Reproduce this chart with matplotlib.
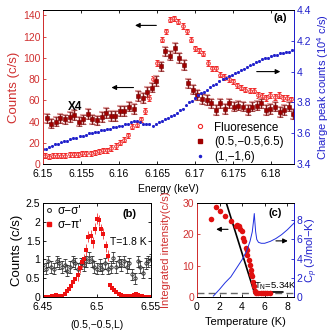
import numpy as np
import matplotlib
matplotlib.use('Agg')
import matplotlib.pyplot as plt
from matplotlib.ticker import FormatStrFormatter
from matplotlib.lines import Line2D

plt.rcParams['font.family'] = ['Liberation Sans', 'DejaVu Sans']
plt.rcParams['mathtext.fontset'] = 'custom'
plt.rcParams['mathtext.rm'] = 'Liberation Sans'
plt.rcParams['mathtext.it'] = 'Liberation Sans:italic'
plt.rcParams['mathtext.bf'] = 'Liberation Sans:bold'

# ---------------- panel (a) data ----------------
E_fl = np.round(6.1502 + 0.00055 * np.arange(60), 5)
fluor = [8, 7, 8, 8, 8, 8, 9, 9, 9, 10,
         10, 10, 11, 12, 13, 13, 15, 17, 20, 23,
         27, 35, 37, 42, 50, 62, 80, 95, 117, 125,
         136, 137, 134, 130, 125, 117, 109, 107, 104, 95,
         90, 90, 84, 82, 80, 78, 74, 72, 70, 69,
         69, 65, 64, 62, 65, 63, 65, 62, 62, 61]
fluor_err = 2.5

E_sq = np.round(6.1505 + 0.0006 * np.arange(55), 5)
sq_x4 = [43, 38, 40, 43, 42, 44, 46, 40, 42, 47,
         42, 41, 44, 48, 45, 45, 50, 50, 54, 52,
         64, 62, 68, 72, 78, 92, 106, 102, 109, 100,
         93, 76, 70, 65, 61, 60, 57, 51, 57, 52,
         57, 54, 55, 54, 51, 54, 55, 57, 51, 52,
         54, 49, 51, 54, 47]
sq_err = 4.5

E_bl = np.round(6.1500 + 0.0004 * np.arange(83), 5)
charge = [3.50, 3.50, 3.51, 3.52, 3.53, 3.53, 3.54, 3.55, 3.55, 3.56,
          3.57, 3.57, 3.58, 3.58, 3.59, 3.60, 3.60, 3.61, 3.61, 3.62,
          3.62, 3.63, 3.63, 3.64, 3.64, 3.65, 3.65, 3.66, 3.66, 3.67,
          3.68, 3.68, 3.67, 3.66, 3.66, 3.66, 3.65, 3.66, 3.67, 3.68,
          3.69, 3.70, 3.71, 3.72, 3.73, 3.75, 3.76, 3.78, 3.80, 3.81,
          3.83, 3.85, 3.86, 3.87, 3.88, 3.90, 3.91, 3.92, 3.94, 3.95,
          3.96, 3.97, 3.98, 3.99, 4.00, 4.01, 4.02, 4.03, 4.04, 4.05,
          4.06, 4.07, 4.08, 4.09, 4.09, 4.10, 4.11, 4.11, 4.12, 4.12,
          4.13, 4.13, 4.14]
charge_err = 0.006

legend_a = ['Fluoresence', '(0.5,\u22120.5,6.5)', '(1,\u22121,6)']

# ---------------- panel (b) data ----------------
L_ss = np.round(6.45 + 0.0025 * np.arange(41), 4)
ss = [0.85, 0.75, 0.95, 0.80, 0.75, 0.95, 0.90, 0.80, 0.85, 0.70,
      0.80, 0.95, 0.90, 0.75, 0.90, 0.85, 0.95, 1.05, 0.95, 0.80,
      0.75, 0.85, 0.75, 0.90, 0.75, 0.80, 1.05, 0.80, 0.95, 0.85,
      0.95, 0.80, 0.90, 0.60, 0.50, 0.95, 0.80, 0.65, 0.90, 0.95, 1.00]
ss_err = 0.15

L_sp = np.round(6.45 + 0.002 * np.arange(51), 4)
sp = [0.00, 0.00, 0.01, 0.00, 0.02, 0.01, 0.05, 0.02, 0.00, 0.03,
      0.08, 0.15, 0.22, 0.30, 0.40, 0.48, 0.58, 0.78, 0.92, 1.00,
      1.25, 1.60, 1.62, 1.45, 1.82, 2.08, 2.04, 1.80, 1.68, 1.35,
      1.10, 0.32, 0.24, 0.18, 0.12, 0.08, 0.05, 0.03, 0.02, 0.01,
      0.02, 0.03, 0.05, 0.08, 0.06, 0.03, 0.02, 0.00, 0.01, 0.00, 0.00]
sp_err = 0.15

legend_b = ['\u03c3\u2212\u03c3\'', '\u03c3\u2212\u03c0\'']

# ---------------- panel (c) data ----------------
T_int = [1.2, 1.65, 2.07, 2.5, 3.0, 3.45, 3.55, 3.7, 3.8, 3.98,
         4.08, 4.2, 4.32, 4.4, 4.47, 4.58, 4.66, 4.75, 4.82, 4.88,
         4.97, 5.04, 5.12, 5.25, 5.45, 5.65, 5.85, 6.05, 6.25, 6.45]
I_int = [24.8, 28.6, 27.4, 25.8, 24.3, 22.8, 23.0, 22.6, 21.6, 21.0,
         18.8, 17.8, 15.6, 15.0, 13.5, 11.8, 10.2, 8.6, 7.2, 6.8,
         4.8, 3.5, 1.8, 1.3, 1.2, 1.2, 1.2, 1.2, 1.2, 1.2]
fit_T = [2.6, 5.07, 7.6]
fit_I = [30.0, 1.6, 1.6]
background = 1.3
T_cp = [1.45, 2.0, 2.5, 3.0, 3.5, 4.0, 4.4, 4.7, 4.9, 5.0,
        5.08, 5.12, 5.2, 5.3, 5.45, 5.7, 6.0, 6.5, 7.0, 7.5, 8.0, 8.6]
Cp = [0.1, 0.8, 1.5, 2.1, 3.0, 3.9, 4.8, 5.8, 6.8, 7.8,
      8.7, 8.0, 6.8, 6.0, 5.7, 5.6, 5.6, 5.8, 6.1, 6.5, 7.0, 7.7]

# ---------------- styling ----------------
RED = '#f02828'
DRED = '#a00000'
LRED = '#d03030'
BLUE = '#2020cc'
FS = 7.5
LFS = 8

fig = plt.figure(figsize=(3.36, 3.31), dpi=100)
W, H = 336.0, 331.0

def box(l, t, r, b):
    return [l / W, 1 - b / H, (r - l) / W, (b - t) / H]

def style(ax):
    ax.tick_params(direction='in', length=2.5, width=0.6, labelsize=FS, pad=2)
    ax.tick_params(axis='x', pad=3.5)
    for s in ax.spines.values():
        s.set_linewidth(0.7)

axA = fig.add_axes(box(43, 10, 294, 164))
axA2 = axA.twinx()

axA.errorbar(E_fl, fluor, yerr=fluor_err, fmt='o', mfc='none', mec=RED,
             ecolor=RED, ms=2.6, mew=0.7, elinewidth=0.6, capsize=1.6, capthick=0.6)
axA.errorbar(E_sq, sq_x4, yerr=sq_err, fmt='none', ecolor='#e0a0a0',
             elinewidth=1.8, capsize=2.2, capthick=1.5)
axA.errorbar(E_sq, sq_x4, yerr=sq_err, fmt='s', color=DRED, mec='#700000',
             ms=2.8, mew=0.4, ecolor='#700000', elinewidth=0.6, capsize=1.8, capthick=0.6)
axA2.errorbar(E_bl, charge, yerr=charge_err, fmt='.', color=BLUE, ms=2.2,
              elinewidth=0.5, capsize=1.0, capthick=0.5)

axA.set_xlim(6.15, 6.183)
axA.set_ylim(0, 145)
axA2.set_ylim(3.4, 4.4)
axA.set_xticks([6.15, 6.155, 6.16, 6.165, 6.17, 6.175, 6.18])
axA.xaxis.set_major_formatter(FormatStrFormatter('%g'))
axA.set_yticks(range(0, 141, 20))
axA2.set_yticks([3.4, 3.6, 3.8, 4.0, 4.2, 4.4])
axA2.yaxis.set_major_formatter(FormatStrFormatter('%g'))
for ax in (axA, axA2):
    style(ax)
axA.tick_params(axis='x', top=True)
axA.tick_params(axis='y', colors=LRED)
axA2.tick_params(axis='y', colors=BLUE)
axA.spines['left'].set_color(LRED)
axA2.spines['left'].set_color(LRED)
axA2.spines['right'].set_color(BLUE)
axA.spines['right'].set_color(BLUE)
axA.set_xlabel('Energy (keV)', fontsize=FS, labelpad=4)
axA.set_ylabel('Counts (c/s)', fontsize=9.5, color=LRED, labelpad=2)
axA2.set_ylabel('Charge peak counts (10$^4$ c/s)', fontsize=LFS, color=BLUE, labelpad=3)

arr = dict(arrowstyle='-|>', color='k', lw=0.8, mutation_scale=7, shrinkA=0, shrinkB=0)
axA.annotate('', xy=(6.1621, 130.5), xytext=(6.1649, 130.5), arrowprops=arr)
axA.annotate('', xy=(6.1590, 72), xytext=(6.1619, 72), arrowprops=arr)
axA2.annotate('', xy=(6.1812, 4.0), xytext=(6.1781, 4.0), arrowprops=arr)
axA.text(6.1542, 54, 'X4', fontsize=8.5, fontweight='bold', ha='center', va='center')
axA.text(6.1812, 137, '(a)', fontsize=8, fontweight='bold', ha='center', va='center')

hA = [Line2D([], [], ls='none', marker='o', mfc='none', mec=RED, ms=3, mew=0.8),
      Line2D([], [], ls='none', marker='s', color=DRED, ms=3.2),
      Line2D([], [], ls='none', marker='.', color=BLUE, ms=3)]
axA2.legend(hA, legend_a, loc='lower left', bbox_to_anchor=(0.575, -0.04),
            frameon=False, fontsize=8.4, handlelength=1.0, handletextpad=0.7,
            labelspacing=0.24, borderaxespad=0.2)

# ---------------- panel (b) ----------------
axB = fig.add_axes(box(43, 203, 151, 297))
axB.errorbar(L_ss, ss, yerr=ss_err, fmt='o', mfc='none', mec='#222222',
             ecolor='#222222', ms=2.4, mew=0.6, elinewidth=0.5, capsize=1.2, capthick=0.5)
sp_errs = [sp_err if v >= 0.5 else 0 for v in sp]
axB.errorbar(L_sp, sp, yerr=sp_errs, fmt='s', color='#ee1010', ms=2.6, mew=0,
             ecolor='#ee1010', elinewidth=0.5, capsize=1.2, capthick=0.5)
axB.set_xlim(6.45, 6.55)
axB.set_ylim(0, 2.5)
axB.set_xticks([6.45, 6.5, 6.55])
axB.set_yticks([0, 0.5, 1, 1.5, 2, 2.5])
axB.xaxis.set_major_formatter(FormatStrFormatter('%g'))
axB.yaxis.set_major_formatter(FormatStrFormatter('%g'))
style(axB)
axB.tick_params(top=True, right=True)
axB.set_xlabel('(0.5,\u22120.5,L)', fontsize=FS, labelpad=6)
axB.set_ylabel('Counts (c/s)', fontsize=9.5, labelpad=2)
axB.text(6.5305, 2.22, '(b)', fontsize=8, fontweight='bold', ha='center', va='center')
axB.text(6.512, 1.45, 'T=1.8 K', fontsize=7.5, ha='left', va='center')
hB = [Line2D([], [], ls='none', marker='o', mfc='none', mec='#222222', ms=2.8, mew=0.7),
      Line2D([], [], ls='none', marker='s', color='#ee1010', ms=3)]
axB.legend(hB, legend_b, loc='upper left', frameon=False, fontsize=8.5,
           handlelength=0.6, handletextpad=0.4, labelspacing=0.15,
           borderaxespad=0.1, borderpad=0.1)

# ---------------- panel (c) ----------------
axC = fig.add_axes(box(197, 203, 294, 297))
axC2 = axC.twinx()
axC.axhline(background, color='#666666', lw=1.0, dashes=(5, 3))
axC.plot(fit_T, fit_I, color='k', lw=1.2)
axC.plot(T_int, I_int, 'o', color='#e01010', ms=4, mew=0)
axC2.plot(T_cp, Cp, color='#2030e0', lw=0.7)
axC.set_xlim(0, 8.6)
axC.set_ylim(0, 30)
axC2.set_ylim(0, 9.8)
axC.set_xticks([0, 2, 4, 6, 8])
axC.set_yticks([0, 10, 20, 30])
axC2.set_yticks([0, 2, 4, 6, 8])
for ax in (axC, axC2):
    style(ax)
axC.tick_params(axis='x', top=True)
axC.tick_params(axis='y', colors=LRED)
axC2.tick_params(axis='y', colors=BLUE)
axC.spines['left'].set_color(LRED)
axC2.spines['left'].set_color(LRED)
axC2.spines['right'].set_color(BLUE)
axC.spines['right'].set_color(BLUE)
axC.set_xlabel('Temperature (K)', fontsize=LFS, labelpad=4)
axC.set_ylabel('Integrated intensity(c/s)', fontsize=LFS, color=LRED, labelpad=8)
axC2.set_ylabel('C$_p$ (J/mol\u2212K)', fontsize=LFS, color=BLUE, labelpad=1)
axC.annotate('', xy=(1.7, 21.6), xytext=(2.75, 21.6), arrowprops=arr)
axC2.annotate('', xy=(8.05, 5.85), xytext=(7.0, 5.85), arrowprops=arr)
axC.text(5.05, 3.4, 'T$_\\mathregular{N}$=5.34K', fontsize=6.8, ha='left', va='center')
axC.text(6.9, 26.8, '(c)', fontsize=8, fontweight='bold', ha='center', va='center')

fig.savefig('out.png', dpi=100)
